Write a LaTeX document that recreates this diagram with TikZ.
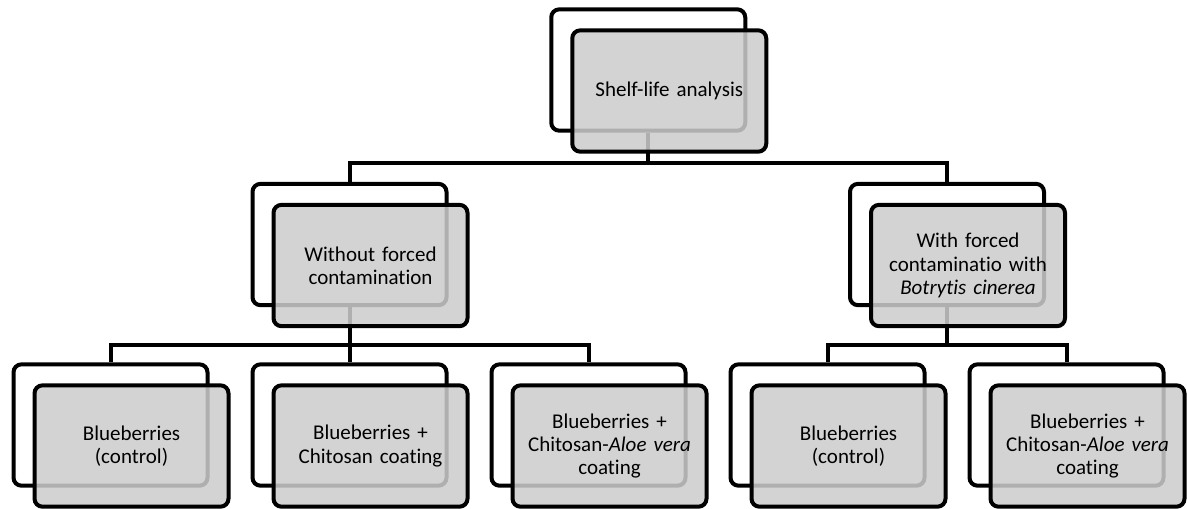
\documentclass[tikz,border=0pt]{standalone}
\usepackage{fontspec}
\setmainfont{Carlito}[Ligatures=NoCommon]
\usetikzlibrary{calc, positioning}

\begin{document}
\begin{tikzpicture}[
          x=0.75pt, y=-0.75pt,
          node distance=30.75pt,
          back/.style={rectangle, rounded corners=6pt, draw, line width=3pt, fill=white, minimum width=145.5pt, minimum height=91pt},
          front/.style={rectangle, rounded corners=6pt, draw, line width=3pt, fill=black!20, fill opacity=0.86, text opacity=1, minimum width=145.5pt, minimum height=91pt, text width=135pt, align=center, font=\fontsize{15.75}{17.5}\selectfont},
          link/.style={line width=3pt}
        ]
          \useasboundingbox (0,0) rectangle (1187,508);

          \node[back] (ctlab) at (110.5,425) {};
          \node[back, right=of ctlab] (chiab) {};
          \node[back, right=of chiab] (aloab) {};
          \node[back, right=of aloab] (ctlbb) {};
          \node[back, right=of ctlbb] (alobb) {};
          \node[back] (nocontb) at ($(chiab)+(0,-180.5)$) {};
          \node[back] (contb) at ($(ctlbb)!.5!(alobb)+(0,-180.5)$) {};
          \node[back] (shelfb) at ($(nocontb)!.5!(contb)+(0,-174.5)$) {};

          \draw[link] (shelfb.south) -- ++(0,30.5) -| (nocontb.north);
          \draw[link] (shelfb.south) -- ++(0,30.5) -| (contb.north);
          \draw[link] (nocontb.south) -- ++(0,38) -| (ctlab.north);
          \draw[link] (nocontb.south) -- ++(0,38) -| (chiab.north);
          \draw[link] (nocontb.south) -- ++(0,38) -| (aloab.north);
          \draw[link] (contb.south) -- ++(0,38) -| (ctlbb.north);
          \draw[link] (contb.south) -- ++(0,38) -| (alobb.north);

          \node[front] (shelf) at ([shift={(21,21)}]shelfb.center) {Shelf-life analysis};
          \node[front] (nocont) at ([shift={(21,21)}]nocontb.center) {Without forced\\contamination};
          \node[front] (cont) at ([shift={(21,21)}]contb.center) {With forced\\contaminatio with\\\textit{Botrytis cinerea}};
          \node[front] (ctla) at ([shift={(21,21)}]ctlab.center) {Blueberries\\(control)};
          \node[front] (chia) at ([shift={(21,21)}]chiab.center) {Blueberries +\\Chitosan coating};
          \node[front] (aloa) at ([shift={(21,21)}]aloab.center) {Blueberries +\\Chitosan-\textit{Aloe vera}\\coating};
          \node[front] (ctlb) at ([shift={(21,21)}]ctlbb.center) {Blueberries\\(control)};
          \node[front] (alob) at ([shift={(21,21)}]alobb.center) {Blueberries +\\Chitosan-\textit{Aloe vera}\\coating};
        \end{tikzpicture}
\end{document}
